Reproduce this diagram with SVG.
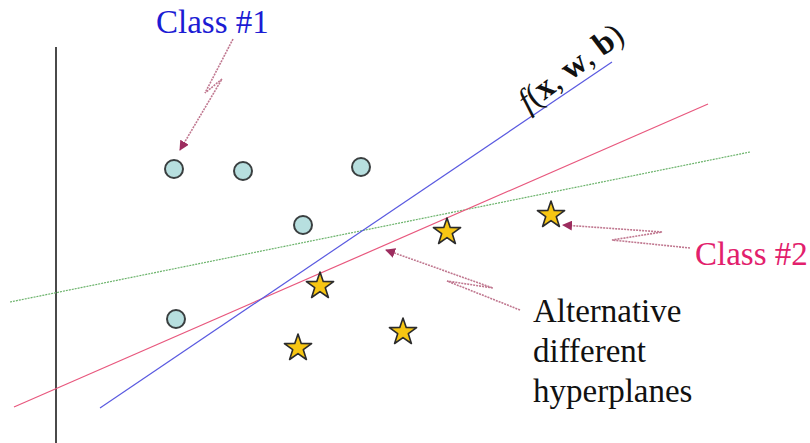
<svg xmlns="http://www.w3.org/2000/svg" width="810" height="443" viewBox="0 0 810 443">
<style>
.circ{fill:#b7dfdf;stroke:#3a3f40;stroke-width:2}
.star{fill:#f7c613;stroke:#2b2b2b;stroke-width:1.6;stroke-linejoin:round}
.hyp{fill:none;stroke-width:1.2}
.ptr{fill:none;stroke:#c07890;stroke-width:1.6;stroke-dasharray:2 1}
.lbl{font-family:"Liberation Serif","Times New Roman",serif;font-size:33px}
</style>
<defs>
<path id="starShape" d="M0,-14 L3.23,-4.45 L13.6,-4.4 L5.3,1.7 L8.4,11.5 L0,5.6 L-8.4,11.5 L-5.3,1.7 L-13.6,-4.4 L-3.23,-4.45 Z"/>
<marker id="arr" viewBox="0 0 10 10" refX="9" refY="5" markerWidth="10" markerHeight="10" markerUnits="userSpaceOnUse" orient="auto">
<path d="M0,0 L10,5 L0,10 Z" fill="#9c2c5e"/>
</marker>
</defs>
<rect width="810" height="443" fill="#ffffff"/>
<line x1="56" y1="47" x2="56" y2="443" stroke="#4a4a4a" stroke-width="2"/>
<g id="hyperplanes">
<line class="hyp" x1="10" y1="302" x2="750" y2="152" stroke="#6bb36b" stroke-dasharray="2 1"/>
<line class="hyp" x1="14" y1="407" x2="708" y2="104" stroke="#e8587e"/>
<line class="hyp" x1="100" y1="408" x2="612" y2="62" stroke="#5a5ae0"/>
</g>
<g id="class1-points">
<circle class="circ" cx="174" cy="169" r="9"/>
<circle class="circ" cx="243" cy="171" r="9"/>
<circle class="circ" cx="361" cy="167" r="9"/>
<circle class="circ" cx="303" cy="225" r="9"/>
<circle class="circ" cx="176" cy="319" r="9"/>
</g>
<g id="class2-points">
<use href="#starShape" class="star" transform="translate(447,232)"/>
<use href="#starShape" class="star" transform="translate(551,215)"/>
<use href="#starShape" class="star" transform="translate(320,286)"/>
<use href="#starShape" class="star" transform="translate(403,332)"/>
<use href="#starShape" class="star" transform="translate(298,348)"/>
</g>
<g id="connectors">
<polyline class="ptr" points="233,39 205,93 222,79 180,150" marker-end="url(#arr)"/>
<polyline class="ptr" points="690,248 612,240 662,232 563,225" marker-end="url(#arr)"/>
<polyline class="ptr" points="520,310 447,281 493,288 386,250" marker-end="url(#arr)"/>
</g>
<g id="label-class1">
<text class="lbl" x="156" y="33" fill="#1c1cd4">Class #1</text>
</g>
<g id="label-class2">
<text class="lbl" x="695" y="265" fill="#e2206c">Class #2</text>
</g>
<g id="label-alt">
<text class="lbl" fill="#111111"><tspan x="533" y="322">Alternative</tspan><tspan x="533" y="362">different</tspan><tspan x="533" y="402">hyperplanes</tspan></text>
</g>
<g id="label-f">
<text class="lbl" font-size="29" fill="#111111" transform="translate(528,113) rotate(-37)"><tspan font-style="italic">f</tspan>(<tspan font-weight="bold">x</tspan>, <tspan font-weight="bold">w</tspan>, <tspan font-weight="bold">b</tspan>)</text>
</g>
</svg>
